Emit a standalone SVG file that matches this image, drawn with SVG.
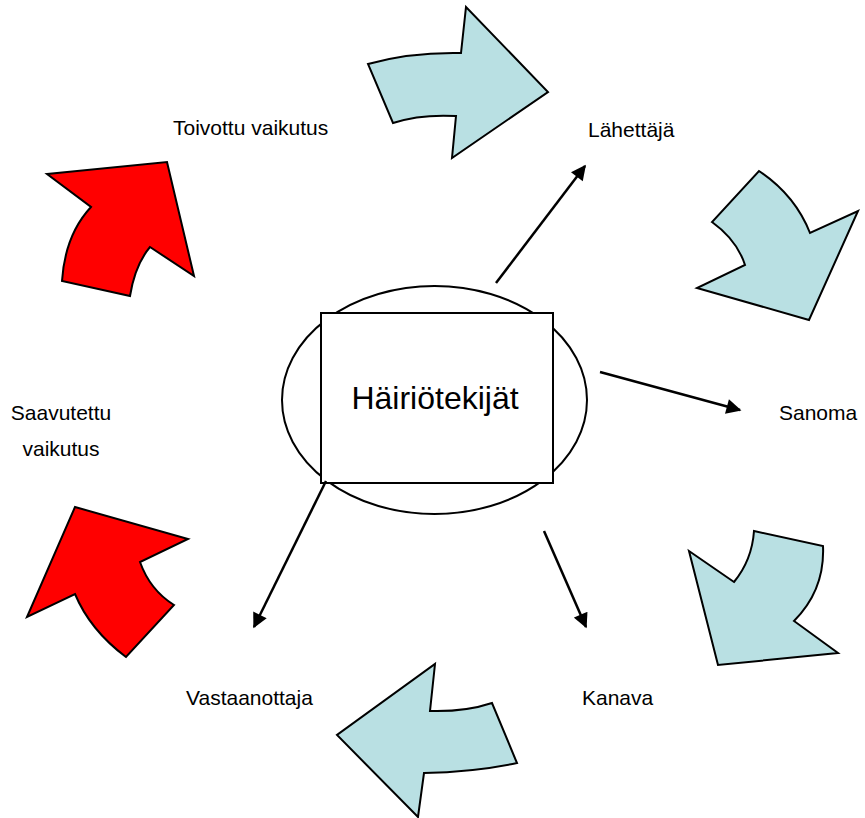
<svg xmlns="http://www.w3.org/2000/svg" width="865" height="818" viewBox="0 0 865 818">
<defs>
<style>
.blk{fill:#b9e0e3;stroke:#000;stroke-width:2;stroke-linejoin:miter}
.red{fill:#ff0000;stroke:#000;stroke-width:2;stroke-linejoin:miter}
.lbl{font-family:"Liberation Sans",Arial,sans-serif;font-size:21px;fill:#000}
.con{stroke:#000;stroke-width:2.5;fill:none;marker-end:url(#ah)}
</style>
<marker id="ah" viewBox="0 0 10 10" refX="9" refY="5" markerWidth="6.4" markerHeight="6" orient="auto" markerUnits="strokeWidth">
<path d="M0,0 L10,5 L0,10 z" fill="#000"/>
</marker>
</defs>
<rect width="865" height="818" fill="#fff"/>
<g id="block-arrows">
<path id="arrow-top" class="blk" d="M368,64 Q410,52 461,53 L466,7 L548,92 L452,158 L456,116 Q420,114 393,123 Z"/>
<path id="arrow-right-top" class="blk" d="M759,171 Q795,195 810,233 L858,211 L809,320 L697,288 L745,265 Q737,240 712,222 Z"/>
<path id="arrow-right-bottom" class="blk" d="M754,531 L823,546 Q825,590 794,621 L838,653 L718,665 L689,551 L734,582 Q752,560 754,531 Z"/>
<path id="arrow-bottom" class="blk" d="M435,664 L430,711 Q465,712 492,703 L517,763 Q475,772 424,773 L418,817 L337,735 Z"/>
<path id="arrow-left-bottom" class="red" d="M75,507 L188,539 L140,562 Q150,590 174,605 L126,657 Q90,630 75,594 L27,617 Z"/>
<path id="arrow-left-top" class="red" d="M47,174 L167,162 L194,276 L150,247 Q135,265 130,296 L62,281 Q65,235 91,207 Z"/>
</g>
<g id="center">
<ellipse cx="434.5" cy="400" rx="152.5" ry="114" fill="none" stroke="#000" stroke-width="2"/>
<rect x="321" y="313" width="232" height="170" fill="#fff" stroke="#000" stroke-width="2"/>
<text x="435" y="409" text-anchor="middle" font-family="Liberation Sans, Arial, sans-serif" font-size="32">Häiriötekijät</text>
</g>
<g id="connectors">
<line class="con" x1="496" y1="283" x2="585" y2="166"/>
<line class="con" x1="600" y1="372" x2="740" y2="410"/>
<line class="con" x1="544" y1="531" x2="586" y2="627"/>
<line class="con" x1="326" y1="481" x2="254" y2="627"/>
</g>
<g id="labels">
<text class="lbl" x="173" y="135">Toivottu vaikutus</text>
<text class="lbl" x="588" y="137">Lähettäjä</text>
<text class="lbl" x="779" y="420">Sanoma</text>
<text class="lbl" x="582" y="705">Kanava</text>
<text class="lbl" x="186" y="705">Vastaanottaja</text>
<text class="lbl" x="61" y="420" text-anchor="middle">Saavutettu</text>
<text class="lbl" x="61" y="456" text-anchor="middle">vaikutus</text>
</g>
</svg>
